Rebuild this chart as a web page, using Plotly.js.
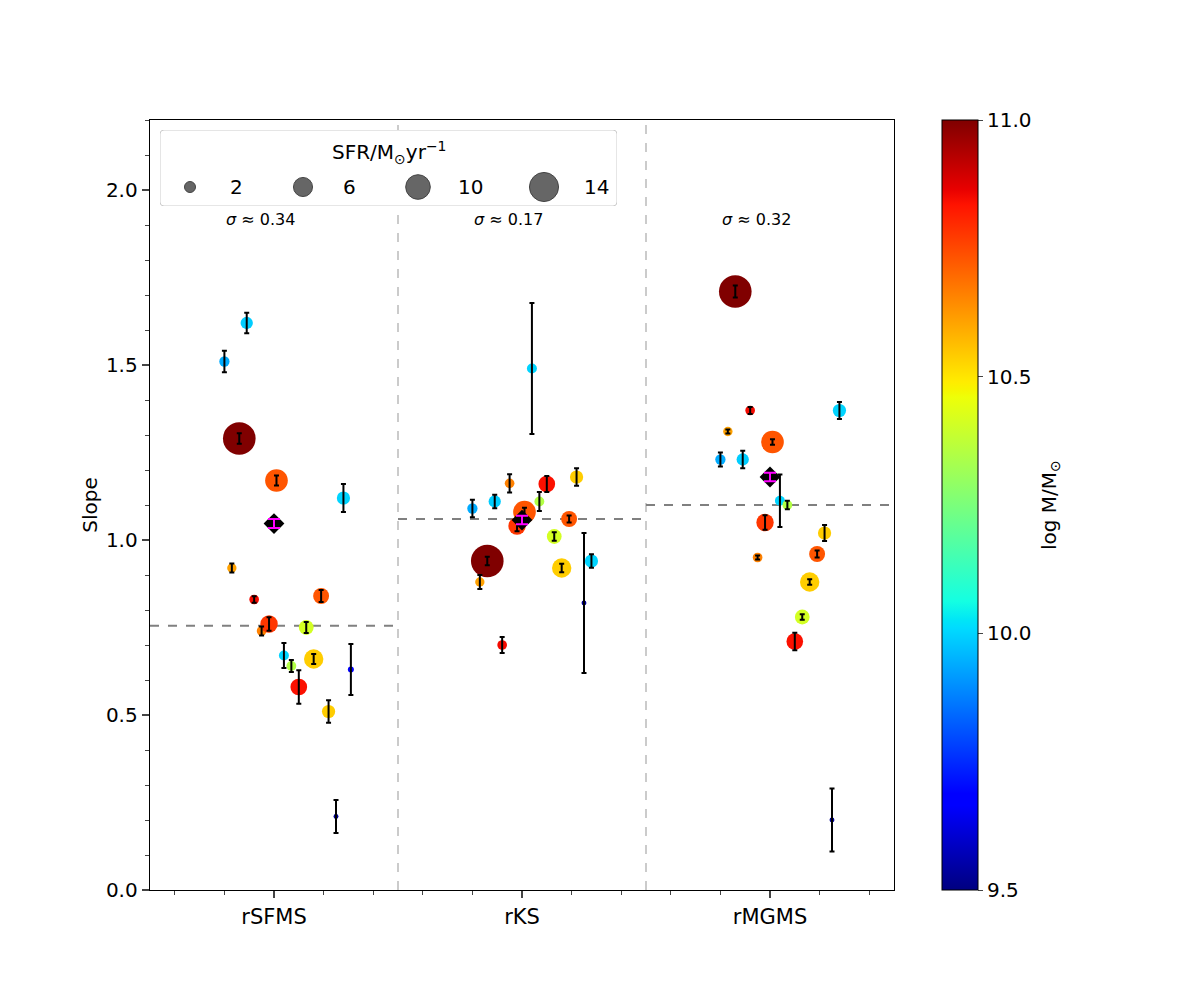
<!DOCTYPE html>
<html>
<head>
<meta charset="utf-8">
<script src="https://cdn.plot.ly/plotly-3.0.1.min.js"></script>
<style>
  body { margin: 0; background: #fff; }
  #slope-plot { width: 1200px; height: 1000px; }
</style>
</head>
<body>
<div id="slope-plot"></div>
<script>
// relations on the x axis
const groups = ["rSFMS", "rKS", "rMGMS"];

// one entry per galaxy (same order in every relation)
const logMass = [9.94, 10.61, 11.0, 9.99, 10.85, 10.66, 10.78, 10.73, 10.0, 10.35, 10.84, 10.41, 10.54, 10.73, 10.54, 9.53, 10.0, 9.67];
const sfr = [1.75, 1.45, 17.6, 2.5, 1.55, 1.55, 5.0, 8.5, 1.65, 1.6, 4.6, 3.6, 6.2, 4.2, 2.9, 0.4, 2.9, 0.6];

// fitted slopes and errors, per relation
const slopeSFMS = [1.51, 0.92, 1.29, 1.62, 0.83, 0.74, 0.76, 1.17, 0.67, 0.64, 0.58, 0.75, 0.66, 0.84, 0.51, 0.21, 1.12, 0.63];
const errSFMS = [0.031, 0.013, 0.015, 0.029, 0.009, 0.013, 0.019, 0.014, 0.036, 0.017, 0.048, 0.016, 0.014, 0.017, 0.032, 0.047, 0.04, 0.073];

const slopeKS = [1.09, 0.88, 0.94, 1.11, 0.70, 1.162, 1.04, 1.08, 1.49, 1.11, 1.16, 1.01, 0.92, 1.06, 1.18, 0.82, 0.94, null];
const errKS = [0.025, 0.02, 0.012, 0.019, 0.023, 0.026, 0.015, 0.012, 0.187, 0.027, 0.023, 0.012, 0.012, 0.01, 0.025, 0.2, 0.019, null];

const slopeMGMS = [1.23, 1.31, 1.71, 1.23, 1.37, 0.95, 1.05, 1.28, 1.112, 1.10, 0.71, 0.78, 0.88, 0.96, 1.02, 0.20, 1.37, null];
const errMGMS = [0.02, 0.006, 0.017, 0.025, 0.01, 0.006, 0.021, 0.008, 0.075, 0.012, 0.025, 0.008, 0.008, 0.01, 0.023, 0.09, 0.024, null];

// summary per relation
const meanSlope = [1.047, 1.057, 1.18];
const meanErr = [0.013, 0.012, 0.012];
const medianSlope = [0.755, 1.06, 1.10];
const sigmaVals = [0.34, 0.17, 0.32];

// size legend
const legendSfr = [2, 6, 10, 14];

const slopes = [slopeSFMS, slopeKS, slopeMGMS];
const errs = [errSFMS, errKS, errMGMS];

// matplotlib jet
const jet = [
  [0, "rgb(0,0,128)"], [0.11, "rgb(0,0,255)"], [0.125, "rgb(0,0,255)"],
  [0.34, "rgb(0,219,255)"], [0.35, "rgb(0,229,247)"], [0.375, "rgb(20,255,226)"],
  [0.64, "rgb(238,255,8)"], [0.65, "rgb(247,245,0)"], [0.66, "rgb(255,236,0)"],
  [0.89, "rgb(255,19,0)"], [0.91, "rgb(232,0,0)"], [1, "rgb(128,0,0)"]
];

const FONT = "DejaVu Sans, Liberation Sans, sans-serif";
// plotly area mode: diameter = sqrt(2*v/sizeref); want 7.78*sqrt(SFR)
const SIZEREF = 2 / (7.78 * 7.78);

let traces = [];

for (let g = 0; g < groups.length; g++) {
  // galaxies are spread a little around the relation's position
  let xs = slopes[g].map((v, i) => g - 0.2 + 0.03 * i);

  traces.push({
    x: xs,
    y: slopes[g],
    type: "scatter",
    mode: "markers",
    showlegend: false,
    hoverinfo: "skip",
    marker: {
      size: sfr,
      sizemode: "area",
      sizeref: SIZEREF,
      opacity: 1,
      color: logMass,
      colorscale: jet,
      cmin: 9.5,
      cmax: 11.0,
      line: { width: 0 },
      showscale: g === 0,
      colorbar: {
        x: (942 - 150) / 744,
        xanchor: "left",
        xpad: 0,
        y: 0.5,
        yanchor: "middle",
        ypad: 0,
        len: 1,
        lenmode: "fraction",
        thickness: 36,
        outlinewidth: 1,
        outlinecolor: "black",
        tickvals: [9.5, 10.0, 10.5, 11.0],
        tickformat: ".1f",
        ticks: "outside",
        ticklen: 5,
        tickfont: { family: FONT, size: 20, color: "black" }
      }
    }
  });

  // error bars on top of the markers
  traces.push({
    x: xs,
    y: slopes[g],
    type: "scatter",
    mode: "markers",
    showlegend: false,
    hoverinfo: "skip",
    marker: { size: 1, opacity: 0 },
    error_y: { type: "data", array: errs[g], visible: true, color: "black", thickness: 2, width: 2.5 }
  });
}

// the mean marker (black diamond with magenta error)
traces.push({
  x: groups.map((_, i) => i),
  y: meanSlope,
  type: "scatter",
  mode: "markers",
  showlegend: false,
  hoverinfo: "skip",
  marker: { symbol: "diamond", size: 16, color: "black", opacity: 1, line: { width: 0 } }
});
traces.push({
  x: groups.map((_, i) => i),
  y: meanSlope,
  type: "scatter",
  mode: "markers",
  showlegend: false,
  hoverinfo: "skip",
  marker: { size: 1, opacity: 0 },
  error_y: { type: "data", array: meanErr, visible: true, color: "magenta", thickness: 2, width: 6 }
});

// size legend drawn on an overlay axis (pixels inside the box)
const legendKeyX = [30, 143, 258, 384];
traces.push({
  x: legendKeyX,
  y: legendSfr.map(() => 57),
  xaxis: "x2",
  yaxis: "y2",
  type: "scatter",
  mode: "markers",
  showlegend: false,
  hoverinfo: "skip",
  marker: { size: legendSfr, sizemode: "area", sizeref: SIZEREF, opacity: 1, color: "#666666", line: { color: "#444444", width: 1 } }
});

let shapes = [];
// separators between relations
[0.5, 1.5].forEach(function (xv) {
  shapes.push({
    type: "line", xref: "x", yref: "paper", x0: xv, x1: xv, y0: 0, y1: 1,
    line: { color: "#bbbbbb", width: 1.5, dash: "dash" }, layer: "below"
  });
});
// median line for each relation
medianSlope.forEach(function (m, i) {
  shapes.push({
    type: "line", xref: "x", yref: "y", x0: i - 0.5, x1: i + 0.5, y0: m, y1: m,
    line: { color: "#808080", width: 2, dash: "dash" }, layer: "below"
  });
});
// legend frame
shapes.push({
  type: "path", xref: "x2", yref: "y2",
  path: "M 4 0 L 453 0 Q 457 0 457 4 L 457 72 Q 457 76 453 76 L 4 76 Q 0 76 0 72 L 0 4 Q 0 0 4 0 Z",
  fillcolor: "rgba(255,255,255,0.8)",
  line: { color: "#cccccc", width: 1 },
  layer: "below"
});

let annotations = [];
sigmaVals.forEach(function (s, i) {
  annotations.push({
    x: i - 0.2, y: 1.917, xref: "x", yref: "y", xanchor: "left", yanchor: "middle",
    text: "<i>σ</i> ≈ " + s.toFixed(2), showarrow: false,
    font: { family: FONT, size: 16, color: "black" }
  });
});
annotations.push({
  x: 229, y: 22, xref: "x2", yref: "y2", xanchor: "center", yanchor: "middle",
  text: "SFR/M<sub>⊙</sub>yr<sup>−1</sup>", showarrow: false,
  font: { family: FONT, size: 20, color: "black" }
});
legendSfr.forEach(function (v, i) {
  annotations.push({
    x: legendKeyX[i] + 38, y: 57, xref: "x2", yref: "y2", xanchor: "left", yanchor: "middle",
    text: String(v), showarrow: false,
    font: { family: FONT, size: 20, color: "black" }
  });
});
// colorbar title
annotations.push({
  x: (1050 - 150) / 744, y: 0.5, xref: "paper", yref: "paper", xanchor: "center", yanchor: "middle",
  text: "log M/M<sub>⊙</sub>", textangle: -90, showarrow: false,
  font: { family: FONT, size: 20, color: "black" }
});

const layout = {
  width: 1200,
  height: 1000,
  margin: { l: 150, r: 306, t: 120, b: 110, pad: 0 },
  paper_bgcolor: "white",
  plot_bgcolor: "white",
  font: { family: FONT, size: 20, color: "black" },
  showlegend: false,
  xaxis: {
    range: [-0.5, 2.5],
    tickvals: [0, 1, 2],
    ticktext: groups,
    ticks: "outside",
    ticklen: 7,
    tickwidth: 1.3,
    tickfont: { family: FONT, size: 21 },
    minor: { dtick: 0.2, tick0: 0, ticks: "outside", ticklen: 4, tickwidth: 1, showgrid: false },
    showgrid: false,
    zeroline: false,
    showline: true,
    mirror: true,
    linecolor: "black",
    linewidth: 1.3
  },
  yaxis: {
    range: [0, 2.2],
    tickvals: [0, 0.5, 1.0, 1.5, 2.0],
    tickformat: ".1f",
    ticks: "outside",
    ticklen: 7,
    tickwidth: 1.3,
    tickfont: { family: FONT, size: 20 },
    minor: { dtick: 0.1, tick0: 0, ticks: "outside", ticklen: 4, tickwidth: 1, showgrid: false },
    title: { text: "Slope", font: { family: FONT, size: 20 }, standoff: 3 },
    showgrid: false,
    zeroline: false,
    showline: true,
    mirror: true,
    linecolor: "black",
    linewidth: 1.3
  },
  xaxis2: {
    domain: [(160 - 150) / 744, (617 - 150) / 744],
    range: [0, 457],
    anchor: "y2",
    visible: false,
    fixedrange: true
  },
  yaxis2: {
    domain: [(890 - 206) / 770, (890 - 130) / 770],
    range: [76, 0],
    anchor: "x2",
    visible: false,
    fixedrange: true
  },
  shapes: shapes,
  annotations: annotations
};

Plotly.newPlot("slope-plot", traces, layout, { staticPlot: true });
</script>
</body>
</html>
